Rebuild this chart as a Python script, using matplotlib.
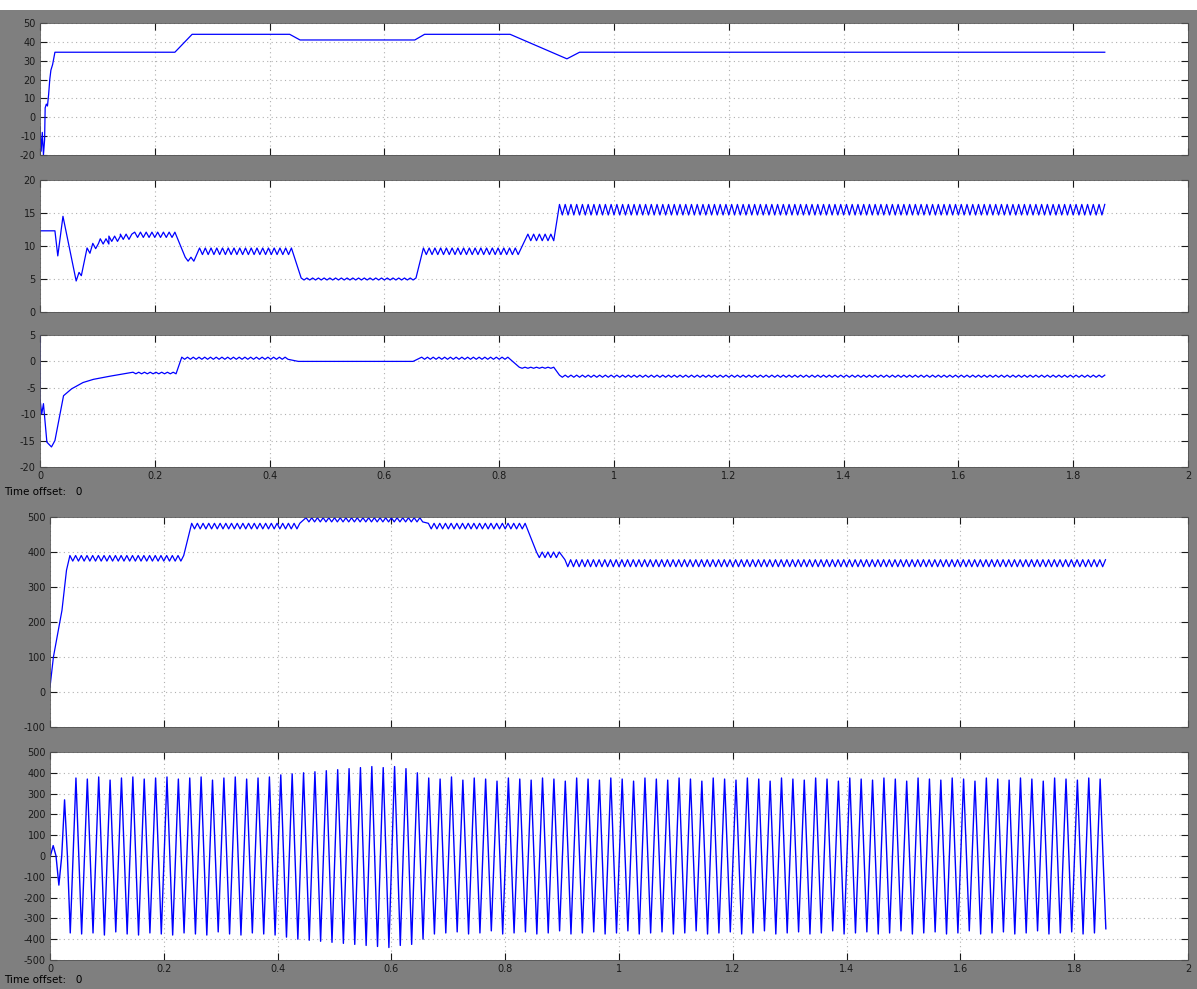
import numpy as np
import matplotlib
matplotlib.use("Agg")
import matplotlib.pyplot as plt
from matplotlib.patches import Rectangle

# ---- data ----
# panel 1: plain trace (keypoints)
p1_t = [0, 0.002, 0.004, 0.006, 0.008, 0.009, 0.011, 0.013, 0.015, 0.017, 0.019,
        0.022, 0.026, 0.235, 0.265, 0.435, 0.453, 0.653, 0.670, 0.819, 0.918, 0.940, 1.855]
p1_v = [-5, -18, -8, -20, -12, 5, 7, 6, 12, 20, 25, 28, 34.5, 34.5, 44, 44, 41, 41,
        44, 44, 31, 34.5, 34.5]

# panels 2-4: pieces (start, end, level, ripple); end == start -> single point
p2_t0 = [0, 0.031, 0.040, 0.063, 0.068, 0.072, 0.078, 0.082, 0.092, 0.105, 0.120, 0.140,
         0.165, 0.253, 0.278, 0.455, 0.668, 0.850, 0.905]
p2_t1 = [0.026, 0.031, 0.040, 0.063, 0.068, 0.072, 0.078, 0.092, 0.105, 0.120, 0.140, 0.165,
         0.237, 0.272, 0.440, 0.658, 0.835, 0.895, 1.855]
p2_lv = [12.3, 8.5, 14.5, 4.7, 6.0, 5.5, 8.0, 9.3, 10.0, 10.7, 11.1, 11.4,
         11.7, 8.0, 9.2, 5.0, 9.2, 11.3, 15.5]
p2_rp = [0, 0, 0, 0, 0, 0, 0, 0.4, 0.4, 0.4, 0.4, 0.4, 0.4, 0.3, 0.5, 0.15, 0.5, 0.5, 0.8]

p3_t0 = [0, 0, 0.003, 0.006, 0.012, 0.020, 0.026, 0.041, 0.055, 0.075, 0.093, 0.122,
         0.162, 0.247, 0.450, 0.665, 0.835, 0.905]
p3_t1 = [0, 0, 0.003, 0.006, 0.012, 0.020, 0.026, 0.041, 0.055, 0.075, 0.093, 0.122,
         0.238, 0.435, 0.650, 0.820, 0.895, 1.855]
p3_lv = [5, -7, -10, -8, -15.3, -16.2, -15, -6.5, -5.2, -4.0, -3.4, -2.8,
         -2.2, 0.6, 0.0, 0.6, -1.2, -2.8]
p3_rp = [0, 0, 0, 0, 0, 0, 0, 0, 0, 0, 0, 0, 0.15, 0.2, 0, 0.2, 0.1, 0.2]

p4_t0 = [0, 0.006, 0.021, 0.029, 0.035, 0.249, 0.450, 0.665, 0.855, 0.905]
p4_t1 = [0, 0.006, 0.021, 0.029, 0.237, 0.440, 0.655, 0.840, 0.895, 1.855]
p4_lv = [14, 100, 233, 348, 382, 474, 492, 474, 392, 368]
p4_rp = [0, 0, 0, 0, 8, 8, 6, 8, 8, 10]

# panel 5: positive / negative peak of each 50 Hz cycle (93 cycles)
pos_peaks = [50, 270, 375, 370, 380, 365, 375, 380, 370, 375,
             380, 370, 375, 380, 365, 375, 380, 370, 375, 380,
             390, 395, 400, 405, 410, 415, 420, 425, 430, 425,
             430, 420, 400, 375, 370, 380, 365, 375, 370, 360,
             375, 370, 365, 375, 370, 360, 375, 370, 365, 375,
             370, 360, 375, 370, 365, 375, 370, 360, 375, 370,
             365, 375, 370, 360, 375, 370, 365, 375, 370, 360,
             375, 370, 365, 375, 370, 360, 375, 370, 365, 375,
             370, 360, 375, 370, 365, 375, 370, 360, 375, 370,
             365, 375, 370]
neg_peaks = [-140, -370, -375, -370, -380, -365, -375, -380, -370, -375,
             -380, -370, -375, -380, -365, -375, -380, -370, -375, -380,
             -390, -400, -405, -410, -415, -420, -425, -430, -435, -440,
             -430, -425, -400, -375, -370, -365, -375, -370, -360, -375,
             -370, -365, -375, -370, -360, -375, -370, -365, -375, -370,
             -360, -375, -370, -365, -375, -370, -360, -375, -370, -365,
             -375, -370, -360, -375, -370, -365, -375, -370, -360, -375,
             -370, -365, -375, -370, -360, -375, -370, -365, -375, -370,
             -360, -375, -370, -365, -375, -370, -360, -375, -370, -365,
             -375, -370, -350]

xticks = [0, 0.2, 0.4, 0.6, 0.8, 1, 1.2, 1.4, 1.6, 1.8, 2]
xlabels = ["0", "0.2", "0.4", "0.6", "0.8", "1", "1.2", "1.4", "1.6", "1.8", "2"]

RIPPLE_STEP = 0.005  # half of the ripple period


def build(t0s, t1s, lvls, rips):
    xs, ys = [], []
    for a, b, v, r in zip(t0s, t1s, lvls, rips):
        if b <= a:
            xs.append(a); ys.append(v)
        elif r == 0:
            xs += [a, b]; ys += [v, v]
        else:
            n = int((b - a) / RIPPLE_STEP)
            for i in range(n + 1):
                xs.append(a + i * RIPPLE_STEP)
                ys.append(v + r if i % 2 == 0 else v - r)
    return xs, ys


wave_v = []
for p, n in zip(pos_peaks, neg_peaks):
    wave_v += [0, p, 0, n]
wave_t = [0.0006 + 0.005 * i for i in range(len(wave_v))]

fig = plt.figure(figsize=(11.97, 9.89), dpi=100, facecolor="#7f7f7f")
fig.patches.append(Rectangle((0, 1 - 10 / 989), 1, 10 / 989, transform=fig.transFigure,
                             facecolor="white", edgecolor="none"))

W, H = 1197, 989


def make_ax(left, top, right, bottom, ylim, yticks, show_x):
    ax = fig.add_axes([left / W, 1 - bottom / H, (right - left) / W, (bottom - top) / H])
    ax.set_facecolor("white")
    ax.set_xlim(0, 2)
    ax.set_ylim(*ylim)
    ax.set_xticks(xticks)
    ax.set_yticks(yticks)
    ax.set_yticklabels([str(v) for v in yticks])
    if show_x:
        ax.set_xticklabels(xlabels)
    else:
        ax.set_xticklabels([])
    ax.grid(True, color="#b0b0b0", linestyle=(0, (1, 3)), linewidth=0.8)
    ax.tick_params(direction="in", length=5, width=0.8, top=True, right=True,
                   labelsize=7, colors="#1a1a1a", pad=3)
    for s in ax.spines.values():
        s.set_color("#555555")
        s.set_linewidth(0.6)
    return ax


ax1 = make_ax(40, 23, 1188, 155, (-20, 50), [-20, -10, 0, 10, 20, 30, 40, 50], False)
ax1.plot(p1_t, p1_v, color="#0000ff", linewidth=0.9)

ax2 = make_ax(40, 180, 1188, 312, (0, 20), [0, 5, 10, 15, 20], False)
x, y = build(p2_t0, p2_t1, p2_lv, p2_rp)
ax2.plot(x, y, color="#0000ff", linewidth=0.9)

ax3 = make_ax(40, 335, 1188, 467, (-20, 5), [-20, -15, -10, -5, 0, 5], True)
x, y = build(p3_t0, p3_t1, p3_lv, p3_rp)
ax3.plot(x, y, color="#0000ff", linewidth=0.9)

ax4 = make_ax(50, 517, 1188, 727, (-100, 500), [-100, 0, 100, 200, 300, 400, 500], False)
x, y = build(p4_t0, p4_t1, p4_lv, p4_rp)
ax4.plot(x, y, color="#0000ff", linewidth=0.9)

ax5 = make_ax(50, 752, 1188, 960, (-500, 500),
              [-500, -400, -300, -200, -100, 0, 100, 200, 300, 400, 500], True)
ax5.plot(wave_t, wave_v, color="#0000ff", linewidth=1.0)

fig.text(0.003, 1 - 492 / H, "Time offset:   0", fontsize=7.5, color="black", va="center")
fig.text(0.003, 1 - 980 / H, "Time offset:   0", fontsize=7.5, color="black", va="center")

fig.savefig("out.png", dpi=100, facecolor=fig.get_facecolor())
